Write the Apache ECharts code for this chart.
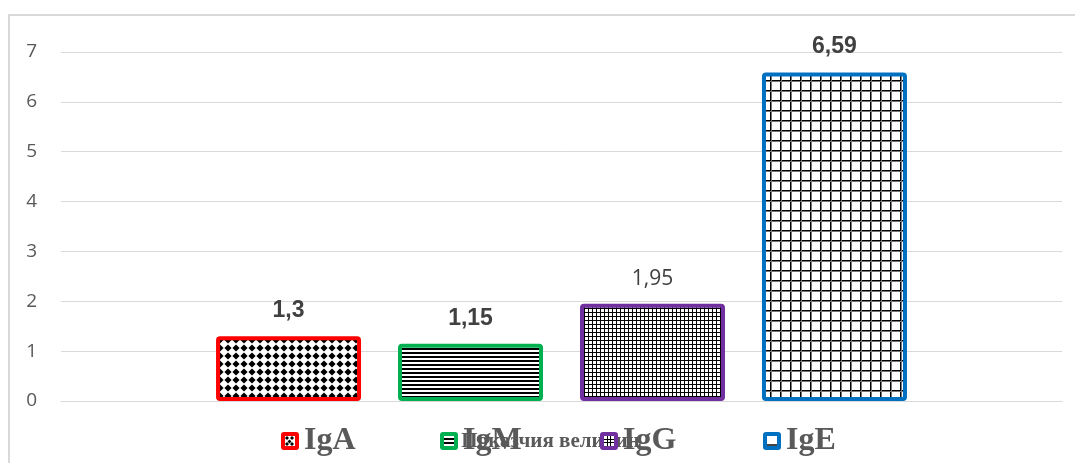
<!DOCTYPE html>
<html>
<head>
<meta charset="utf-8">
<script src="https://cdn.jsdelivr.net/npm/echarts@6/dist/echarts.min.js"></script>
<style>
  html, body { margin: 0; padding: 0; background: #fff; }
  #chart { width: 1075px; height: 463px; }
</style>
</head>
<body>
<div id="chart"></div>
<script>
// Immunoglobulin values, one bar per class
const categories = ['Показчия величин'];
const seriesNames = ['IgA', 'IgM', 'IgG', 'IgE'];
const seriesValues = [1.3, 1.15, 1.95, 6.59];
const yTicks = [0, 1, 2, 3, 4, 5, 6, 7];

// Outline colour of each bar
const outlineColors = ['#ff0000', '#00b050', '#7030a0', '#0070c0'];

// --- fill patterns -------------------------------------------------------
function makeTile(w, h, draw) {
  const c = document.createElement('canvas');
  c.width = w; c.height = h;
  const g = c.getContext('2d');
  g.fillStyle = '#fff';
  g.fillRect(0, 0, w, h);
  g.fillStyle = '#000';
  draw(g, w, h);
  return c;
}

const patterns = [
  // solid diamonds
  makeTile(8, 8, g => {
    g.beginPath();
    g.moveTo(4, 0.4); g.lineTo(7.6, 4); g.lineTo(4, 7.6); g.lineTo(0.4, 4);
    g.closePath(); g.fill();
  }),
  // narrow horizontal stripes
  makeTile(4, 4, g => { g.fillRect(0, 0, 4, 2); }),
  // small grid
  makeTile(4, 4, g => { g.fillRect(0, 0, 4, 1); g.fillRect(0, 0, 1, 4); }),
  // large grid
  makeTile(10, 10, g => {
    g.fillRect(0, 0, 10, 1); g.fillRect(0, 0, 1, 10);
    g.fillStyle = '#777';
    g.fillRect(0, 1, 10, 1); g.fillRect(1, 0, 1, 10);
  })
];

// --- legend markers: coloured rounded square with a patterned centre -----
function legendIcon(i) {
  const c = document.createElement('canvas');
  c.width = 18; c.height = 18;
  const g = c.getContext('2d');
  g.fillStyle = outlineColors[i];
  g.beginPath();
  if (g.roundRect) g.roundRect(0, 0, 18, 18, 3); else g.rect(0, 0, 18, 18);
  g.fill();
  g.fillStyle = '#fff';
  g.fillRect(4, 4, 10, 10);
  g.fillStyle = '#000';
  if (i === 0) {
    [[6, 6], [11, 6], [8.5, 9.5], [6, 12], [11, 12]].forEach(([x, y]) => {
      g.beginPath();
      g.moveTo(x, y - 2); g.lineTo(x + 2, y); g.lineTo(x, y + 2); g.lineTo(x - 2, y);
      g.closePath(); g.fill();
    });
  } else if (i === 1) {
    g.fillRect(4, 6, 10, 2); g.fillRect(4, 10, 10, 2);
  } else if (i === 2) {
    g.fillRect(4, 7, 10, 1); g.fillRect(4, 10, 10, 1);
    g.fillRect(7, 4, 1, 10); g.fillRect(10, 4, 1, 10);
  } else {
    g.fillStyle = '#444';
    g.fillRect(4, 12, 10, 2);
  }
  return 'image://' + c.toDataURL();
}

const legendX = [281, 440, 600, 763];

const labelStyles = [
  { fontFamily: 'Liberation Sans Narrow, Liberation Sans', fontWeight: 'bold', fontSize: 23 },
  { fontFamily: 'Liberation Sans Narrow, Liberation Sans', fontWeight: 'bold', fontSize: 23 },
  { fontFamily: 'Open Sans', fontWeight: 'normal', fontSize: 21 },
  { fontFamily: 'Liberation Sans Narrow, Liberation Sans', fontWeight: 'bold', fontSize: 23 }
];

const chart = echarts.init(document.getElementById('chart'), null, { renderer: 'canvas' });

chart.setOption({
  animation: false,
  backgroundColor: '#fff',
  graphic: [{
    type: 'rect',
    shape: { x: 9, y: 15, width: 1200, height: 600 },
    style: { fill: 'none', stroke: '#d9d9d9', lineWidth: 2 },
    silent: true
  }],
  grid: { left: 61, right: 13, top: 52, bottom: 62, containLabel: false },
  legend: seriesNames.map((name, i) => ({
    data: [{ name, icon: legendIcon(i) }],
    left: legendX[i],
    top: 425,
    padding: 0,
    itemWidth: 18,
    itemHeight: 18,
    itemGap: 0,
    selectedMode: false,
    textStyle: {
      fontFamily: 'Liberation Serif',
      fontWeight: 'bold',
      fontSize: 32,
      color: '#595959'
    }
  })),
  xAxis: {
    type: 'category',
    data: categories,
    axisTick: { show: false },
    axisLine: { lineStyle: { color: '#d9d9d9', width: 1 } },
    axisLabel: {
      margin: 30,
      fontFamily: 'Liberation Serif',
      fontWeight: 'bold',
      fontSize: 21,
      color: '#595959',
      padding: [0, 22, 0, 0]
    }
  },
  yAxis: {
    type: 'value',
    min: yTicks[0],
    max: yTicks[yTicks.length - 1],
    interval: 1,
    axisLine: { show: false },
    axisTick: { show: false },
    axisLabel: {
      margin: 24,
      fontFamily: 'Open Sans',
      fontSize: 19,
      color: '#595959'
    },
    splitLine: { lineStyle: { color: '#d9d9d9', width: 1 } }
  },
  series: seriesNames.map((name, i) => ({
    type: 'bar',
    name,
    data: [seriesValues[i]],
    barWidth: 145,
    barGap: '25.5%',
    itemStyle: {
      color: { image: patterns[i], repeat: 'repeat' },
      borderColor: outlineColors[i],
      borderWidth: 4,
      borderRadius: 2
    },
    label: {
      show: true,
      position: 'top',
      distance: 14,
      color: '#404040',
      formatter: p => String(p.value).replace('.', ','),
      ...labelStyles[i]
    }
  }))
});
</script>
</body>
</html>
